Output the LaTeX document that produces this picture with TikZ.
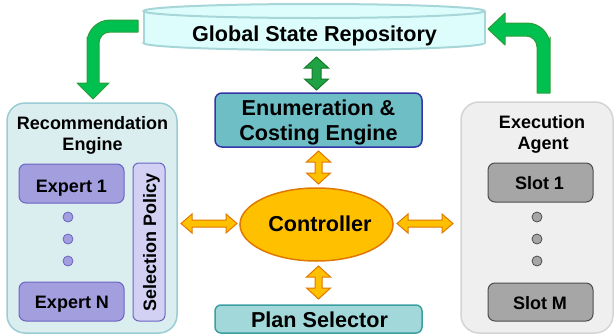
\documentclass[tikz,border=0pt]{standalone}
\usepackage{fontspec}
\setmainfont{Liberation Sans}
\usetikzlibrary{shapes.geometric}
\definecolor{cylfill}{HTML}{DDFDFD}
\definecolor{cylline}{HTML}{A6D6D8}
\definecolor{gfill}{HTML}{00C050}
\definecolor{gline}{HTML}{2E9E3A}
\definecolor{dgfill}{HTML}{1FA243}
\definecolor{dgline}{HTML}{137A2A}
\definecolor{ofill}{HTML}{FFC000}
\definecolor{oline}{HTML}{E07800}
\definecolor{enumfill}{HTML}{6EBEC6}
\definecolor{enumline}{HTML}{3535A5}
\definecolor{planfill}{HTML}{A2D8DA}
\definecolor{planline}{HTML}{3C9EA0}
\definecolor{recfill}{HTML}{DAEEF0}
\definecolor{recline}{HTML}{9ACCD4}
\definecolor{expfill}{HTML}{A39EDD}
\definecolor{expline}{HTML}{6B65C2}
\definecolor{selfill}{HTML}{D3D1F3}
\definecolor{exefill}{HTML}{EFEFEF}
\definecolor{exeline}{HTML}{D4D4D4}
\definecolor{slotfill}{HTML}{A6A6A6}
\definecolor{slotline}{HTML}{4D4D4D}
\newcommand\vdarr[6]{% style, x, y1, y2, head half width, shaft half width
  \filldraw[#1] (#2,#3) -- ({#2+#5},{#3+11}) -- ({#2+#6},{#3+11}) -- ({#2+#6},{#4-11}) -- ({#2+#5},{#4-11}) -- (#2,#4) -- ({#2-#5},{#4-11}) -- ({#2-#6},{#4-11}) -- ({#2-#6},{#3+11}) -- ({#2-#5},{#3+11}) -- cycle;}
\newcommand\hdarr[6]{% style, y, x1, x2, head half height, shaft half height
  \filldraw[#1] (#3,#2) -- ({#3+11},{#2-#5}) -- ({#3+11},{#2-#6}) -- ({#4-11},{#2-#6}) -- ({#4-11},{#2-#5}) -- (#4,#2) -- ({#4-11},{#2+#5}) -- ({#4-11},{#2+#6}) -- ({#3+11},{#2+#6}) -- ({#3+11},{#2+#5}) -- cycle;}
\begin{document}
\begin{tikzpicture}[x=1pt,y=-1pt,
  big/.style={font=\bfseries\fontsize{21.6}{25}\selectfont, inner sep=0pt},
  sub/.style={font=\bfseries\fontsize{18}{21}\selectfont, inner sep=0pt},
  garrow/.style={fill=gfill, draw=gline, line width=1pt, line join=round},
  dgarrow/.style={fill=dgfill, draw=dgline, line width=1pt, line join=miter},
  oarrow/.style={fill=ofill, draw=oline, line width=1pt, line join=miter},
  box/.style={rectangle, inner sep=0pt, line width=1.5pt},
  dot/.style={circle, inner sep=0pt, minimum size=10pt, line width=0.8pt}]
\useasboundingbox (0,0) rectangle (616,335);

% cylinder
\filldraw[fill=cylfill, draw=cylline, line width=2pt] (314,43) ellipse[x radius=170.5pt, y radius=7pt];
\fill[cylfill] (143.5,11) rectangle (484.5,43);
\draw[cylline, line width=2pt] (143.5,11) -- (143.5,43) (484.5,11) -- (484.5,43);
\filldraw[fill=cylfill, draw=cylline, line width=2pt] (314,11) ellipse[x radius=170.5pt, y radius=7pt];
\node[big, anchor=base] (gsr) at (314.5,41) {Global State Repository};

% green curved arrows
\filldraw[garrow] (138,20) [rounded corners=23pt] -- (87,20) -- (87,60) [sharp corners] -- (87,83) -- (77,83) -- (93,99) -- (109,83) -- (99,83) -- (99,60) [rounded corners=11pt] -- (99,32) -- (120,32) [sharp corners] -- (138,32) -- cycle;
\filldraw[garrow] (537,93) -- (537,60) [rounded corners=11pt] -- (537,36) -- (520,36) [sharp corners] -- (505,36) -- (505,45) -- (488,29) -- (505,13) -- (505,23) -- (520,23) [rounded corners=23pt] -- (550,23) -- (550,60) [sharp corners] -- (550,93) -- cycle;

% green double arrow
\vdarr{dgarrow}{316.5}{57}{90}{12}{4.5}

% enumeration
\node[box, rounded corners=7pt, fill=enumfill, draw=enumline, minimum width=207pt, minimum height=54pt] (enum) at (318.5,120) {};
\node[big, anchor=base] (enum1) at (318.5,115) {Enumeration \&};
\node[big, anchor=base] (enum2) at (318.5,140) {Costing Engine};

% orange arrows
\vdarr{oarrow}{318.5}{151}{184}{12}{3.5}
\vdarr{oarrow}{318.5}{266}{299}{12}{3.5}
\hdarr{oarrow}{223.5}{181}{237}{9.5}{3.5}
\hdarr{oarrow}{223.5}{397}{453}{9.5}{3.5}

% controller
\node[ellipse, fill=ofill, draw=oline, line width=1.5pt, minimum width=153pt, minimum height=73pt, inner sep=0pt] (ctrl) at (316.5,224.5) {};
\node[big, anchor=base] (ctrltext) at (320,231) {Controller};

% plan selector
\node[box, rounded corners=6pt, fill=planfill, draw=planline, minimum width=207pt, minimum height=28pt] (plan) at (318.5,319) {};
\node[big, anchor=base] (plantext) at (319.5,327) {Plan Selector};

% recommendation engine
\node[box, rounded corners=18pt, fill=recfill, draw=recline, minimum width=170pt, minimum height=230pt] (rec) at (92,218) {};
\node[sub, anchor=base] (rec1) at (92.5,129) {Recommendation};
\node[sub, anchor=base] (rec2) at (92.5,150) {Engine};
\node[box, rounded corners=7pt, fill=expfill, draw=expline, line width=1pt, minimum width=105pt, minimum height=39pt] (exp1) at (71.5,183.5) {};
\node[sub, anchor=base] (exp1t) at (71.5,192) {Expert 1};
\node[box, rounded corners=7pt, fill=expfill, draw=expline, line width=1pt, minimum width=105pt, minimum height=39pt] (expN) at (71.5,301.5) {};
\node[sub, anchor=base] (expNt) at (72,308) {Expert N};
\node[dot, fill=expfill, draw=expline] (ed1) at (68,217) {};
\node[dot, fill=expfill, draw=expline] (ed2) at (68,239) {};
\node[dot, fill=expfill, draw=expline] (ed3) at (68,261) {};
\node[box, rounded corners=6pt, fill=selfill, draw=expline, line width=1pt, minimum width=32pt, minimum height=158pt] (sel) at (149,242) {};
\node[sub, rotate=90, anchor=base] (selt) at (156,242.5) {Selection Policy};

% execution agent
\node[box, rounded corners=18pt, fill=exefill, draw=exeline, minimum width=152pt, minimum height=231pt] (exe) at (537,217.5) {};
\node[sub, anchor=base] (exe1) at (542,128) {Execution};
\node[sub, anchor=base] (exe2) at (543,149) {Agent};
\node[box, rounded corners=7pt, fill=slotfill, draw=slotline, line width=1pt, minimum width=105pt, minimum height=39pt] (slot1) at (540.5,182.5) {};
\node[sub, anchor=base] (slot1t) at (539.5,189) {Slot 1};
\node[box, rounded corners=7pt, fill=slotfill, draw=slotline, line width=1pt, minimum width=105pt, minimum height=38pt] (slotM) at (540.5,302) {};
\node[sub, anchor=base] (slotMt) at (540,309) {Slot M};
\node[dot, fill=slotfill, draw=slotline] (sd1) at (537,217) {};
\node[dot, fill=slotfill, draw=slotline] (sd2) at (537,239) {};
\node[dot, fill=slotfill, draw=slotline] (sd3) at (537,261) {};
\end{tikzpicture}
\end{document}
